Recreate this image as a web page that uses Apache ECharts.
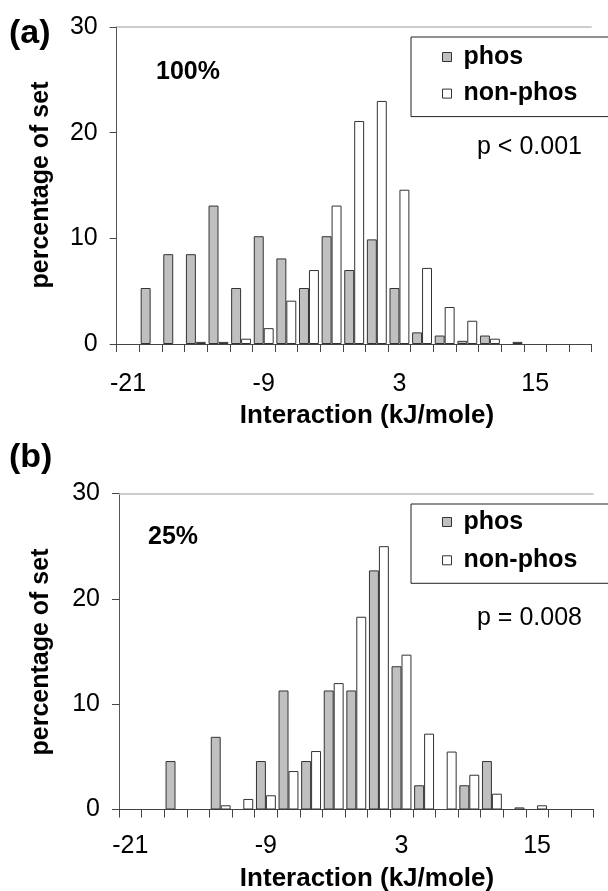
<!DOCTYPE html>
<html>
<head>
<meta charset="utf-8">
<script src="https://cdn.jsdelivr.net/npm/echarts@6/dist/echarts.min.js"></script>
<style>
html, body { margin: 0; padding: 0; background: #fff; }
#main { width: 608px; height: 891px; }
</style>
</head>
<body>
<div id="main"></div>
<script>
// bins of 2 kJ/mole, labelled by their centre
var bins = ['-21', '-19', '-17', '-15', '-13', '-11', '-9', '-7', '-5', '-3', '-1',
	'1', '3', '5', '7', '9', '11', '13', '15', '17', '19'];
var yTicks = [0, 10, 20, 30];

// (a) 100%
var phosA = [0, 5.3, 8.5, 8.5, 13.1, 5.3, 10.2, 8.1, 5.3, 10.2, 7.0, 9.9, 5.3, 1.1, 0.8, 0.3, 0.8, 0, 0, 0, 0];
var nonPhosA = [0, 0, 0, 0.2, 0.2, 0.5, 1.5, 4.1, 7.0, 13.1, 21.1, 23.0, 14.6, 7.2, 3.5, 2.2, 0.5, 0.2, 0, 0, 0];
// (b) 25%
var phosB = [0, 0, 4.6, 0, 6.9, 0, 4.6, 11.3, 4.6, 11.3, 11.3, 22.7, 13.6, 2.3, 0, 2.3, 4.6, 0, 0, 0, 0];
var nonPhosB = [0, 0, 0, 0, 0.4, 1.0, 1.35, 3.65, 5.55, 12.0, 18.3, 25.0, 14.7, 7.2, 5.5, 3.3, 1.5, 0.2, 0.4, 0, 0];

var FONT = '"Liberation Sans", Arial, Helvetica, sans-serif';
var grayFill = '#c0c0c0';
var edge = '#333';

function noZero(arr) {
	return arr.map(function (v) { return v === 0 ? null : v; });
}

function xAxisOf(idx, margin) {
	return {
		type: 'category',
		gridIndex: idx,
		data: bins,
		axisLine: { lineStyle: { color: '#444', width: 1 } },
		axisTick: { show: true, interval: 0, length: 8, lineStyle: { color: '#444' } },
		axisLabel: { interval: 5, margin: margin, color: '#000', fontSize: 25, fontFamily: FONT },
		splitLine: { show: false }
	};
}

function yAxisOf(idx) {
	return {
		type: 'value',
		gridIndex: idx,
		min: yTicks[0],
		max: yTicks[yTicks.length - 1],
		interval: 10,
		axisLine: { show: true, lineStyle: { color: '#555', width: 1 } },
		axisTick: { show: true, length: 7, lineStyle: { color: '#444' } },
		axisLabel: { margin: 19, color: '#000', fontSize: 25, fontFamily: FONT },
		splitLine: { show: false }
	};
}

function barSeries(name, idx, data, fill) {
	var s = {
		name: name,
		type: 'bar',
		xAxisIndex: idx,
		yAxisIndex: idx,
		data: noZero(data),
		barGap: '0%',
		barCategoryGap: '12%',
		itemStyle: { color: fill, borderColor: edge, borderWidth: 1 },
		silent: true,
		animation: false
	};
	return s;
}

// light line along the top of each plot
function topLine() {
	return {
		silent: true,
		symbol: 'none',
		label: { show: false },
		lineStyle: { color: '#bbb', type: 'solid', width: 1.5 },
		data: [{ yAxis: 30 }]
	};
}

function legendOf(top, padding, gap) {
	return {
		orient: 'vertical',
		left: 411,
		top: top,
		padding: padding,
		itemGap: gap,
		itemWidth: 9,
		itemHeight: 9,
		borderColor: '#222',
		borderWidth: 1,
		selectedMode: false,
		textStyle: { fontSize: 25, fontWeight: 'bold', fontFamily: FONT, color: '#000', lineHeight: 26, padding: [0, 0, 0, 7] },
		data: [
			{ name: 'phos', icon: 'rect', itemStyle: { color: grayFill, borderColor: edge, borderWidth: 1 } },
			{ name: 'non-phos', icon: 'rect', itemStyle: { color: '#fff', borderColor: edge, borderWidth: 1 } }
		]
	};
}

function txt(x, y, s, size, weight, rot) {
	return {
		type: 'text',
		x: x,
		y: y,
		rotation: rot || 0,
		silent: true,
		style: {
			text: s,
			font: weight + ' ' + size + 'px ' + FONT,
			fill: '#000',
			textAlign: 'left',
			textVerticalAlign: 'middle',
			align: 'left',
			verticalAlign: 'middle'
		}
	};
}

function txtC(x, y, s, size, weight, rot) {
	var t = txt(x, y, s, size, weight, rot);
	t.style.textAlign = 'center';
	t.style.align = 'center';
	return t;
}

var sA = barSeries('phos', 0, phosA, grayFill);
sA.markLine = topLine();
var sB = barSeries('phos', 1, phosB, grayFill);
sB.markLine = topLine();

var option = {
	backgroundColor: '#fff',
	animation: false,
	grid: [
		{ left: 116.7, right: 16.3, top: 27, bottom: 547 },
		{ left: 119, right: 14.4, top: 493.5, bottom: 81.5 }
	],
	xAxis: [xAxisOf(0, 28), xAxisOf(1, 24)],
	yAxis: [yAxisOf(0), yAxisOf(1)],
	legend: [legendOf(37, [7, 40, 10, 31], 10.6), legendOf(504, [5, 40, 10, 31], 12.3)],
	series: [
		sA,
		barSeries('non-phos', 0, nonPhosA, '#fff'),
		sB,
		barSeries('non-phos', 1, nonPhosB, '#fff')
	],
	graphic: [
		txt(9, 33.5, '(a)', 34, 'bold'),
		txt(9, 458, '(b)', 34, 'bold'),
		txt(156, 72, '100%', 25, 'bold'),
		txt(148, 537, '25%', 25, 'bold'),
		txt(477, 147, 'p < 0.001', 25, 'normal'),
		txt(477, 618, 'p = 0.008', 25, 'normal'),
		txtC(41, 185, 'percentage of set', 25, 'bold', Math.PI / 2),
		txtC(41, 652, 'percentage of set', 25, 'bold', Math.PI / 2),
		txtC(367, 416, 'Interaction (kJ/mole)', 26, 'bold'),
		txtC(367, 879, 'Interaction (kJ/mole)', 26, 'bold')
	]
};

var chart = echarts.init(document.getElementById('main'));
chart.setOption(option);
</script>
</body>
</html>
